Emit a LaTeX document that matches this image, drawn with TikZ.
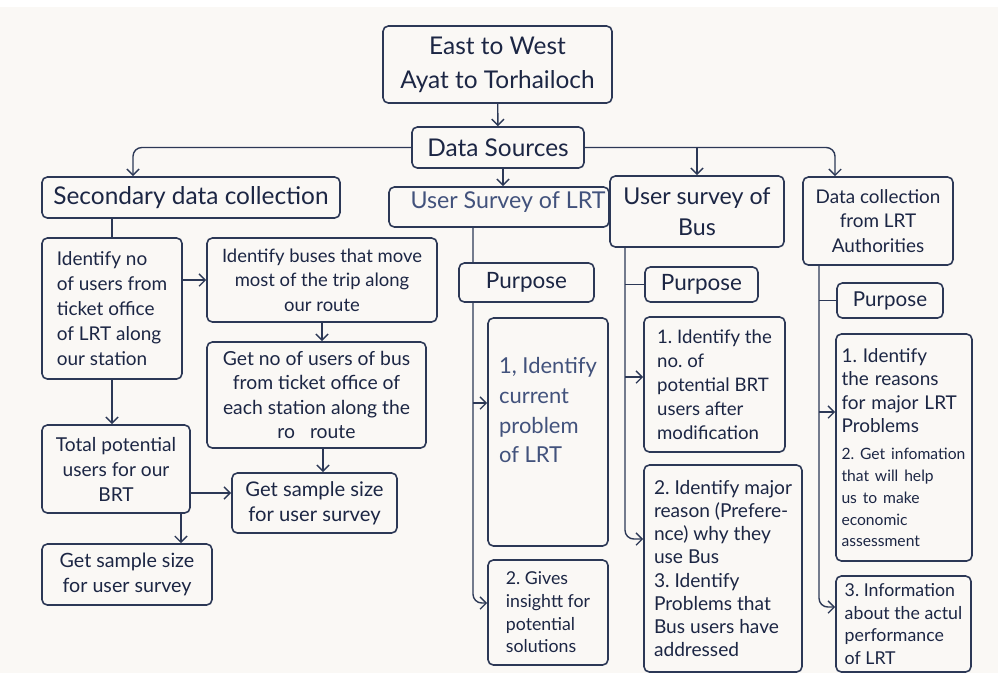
\documentclass[tikz,border=0pt]{standalone}
\usepackage{fontspec}
\setmainfont{Lato}
\usetikzlibrary{arrows.meta}
\definecolor{cream}{RGB}{250,248,245}
\definecolor{ink}{RGB}{28,38,68}
\definecolor{edge}{RGB}{44,56,86}
\definecolor{slate}{RGB}{66,82,124}
\pgfdeclarelayer{paper}
\pgfdeclarelayer{back}
\pgfsetlayers{paper,back,main}
\hyphenpenalty=10000
\exhyphenpenalty=10000

\begin{document}
\begin{tikzpicture}[x=0.02cm, y=-0.02cm,
    box/.style={draw=edge, line width=0.9pt, rounded corners=3pt, fill=cream, text=ink, inner sep=0pt, align=center, execute at begin node=\frenchspacing},
    title/.style={font=\fontsize{13.9}{19.3}\selectfont},
    head/.style={font=\fontsize{13.2}{17.6}\selectfont},
    purp/.style={font=\fontsize{12.8}{15}\selectfont},
    body/.style={font=\fontsize{10.8}{14.2}\selectfont},
    link/.style={draw=edge, line width=0.8pt, rounded corners=5pt},
    >={Straight Barb[length=3.5pt,width=7pt]}]
    \useasboundingbox (0,0) rectangle (998,691);
    \begin{pgfonlayer}{paper}
        \fill[white] (0,0) rectangle (998,691);
        \fill[cream] (0,7) rectangle (998,673);
    \end{pgfonlayer}

    % Top of the tree
    \node[box, title, minimum width=4.58cm, minimum height=1.54cm] (route) at (497.5,64.5) {East to West\\Ayat to Torhailoch};
    \node[box, title, minimum width=3.44cm, minimum height=0.82cm] (sources) at (498,147.5) {Data Sources};
    \node[box, title, minimum width=5.96cm, minimum height=0.82cm] (second) at (191,197.5) {Secondary data collection};
    \node[box, head, minimum width=3.48cm, minimum height=1.42cm] (bus) at (697,211.5) {User survey of\\Bus};
    \node[box, head, text=slate, minimum width=4.4cm, minimum height=0.8cm] (lrt) at (499,207) {\hspace*{0.36cm}User Survey of LRT\rule[-0.28cm]{0pt}{0.28cm}};
    \node[box, font=\fontsize{10.75}{13.9}\selectfont, minimum width=3cm, minimum height=1.76cm] (auth) at (878,221) {Data collection\\from LRT\\Authorities};

    % Secondary data
    \node[box, body, align=left, minimum width=2.8cm, minimum height=2.82cm] (users) at (112,308.5) {Identify no\\of users from\\ticket office\\of LRT along\\our station};
    \node[box, font=\fontsize{10.5}{13.9}\selectfont, minimum width=4.6cm, minimum height=1.68cm] (buses) at (322,280) {Identify buses that move\\most of the trip along\\our route};
    \node[box, font=\fontsize{11}{13.9}\selectfont, minimum width=4.38cm, minimum height=2.12cm] (busers) at (316.5,395) {Get no of users of bus\\from ticket office of\\each station along the\\ro\hspace{0.3cm}route};
    \node[box, font=\fontsize{10.9}{14.2}\selectfont, minimum width=2.96cm, minimum height=1.76cm] (total) at (116,469) {Total potential\\users for our\\BRT};
    \node[box, font=\fontsize{11.5}{14.2}\selectfont, minimum width=3.3cm, minimum height=1.2cm] (sampleb) at (314.5,503) {Get sample size\\for user survey};
    \node[box, font=\fontsize{11.2}{14.2}\selectfont, minimum width=3.4cm, minimum height=1.22cm] (samplel) at (127,574.5) {Get sample size\\for user survey};

    % LRT survey
    \node[box, purp, minimum width=2.7cm, minimum height=0.78cm] (lrtpurp) at (526.5,282.5) {Purpose};
    \node[box, text=slate, font=\fontsize{12.5}{17}\selectfont, align=left, minimum width=2.4cm, minimum height=4.56cm] (lrtone) at (548,432) {1, Identify\\current\\problem\\of LRT\rule[-0.88cm]{0pt}{0.88cm}};
    \node[box, font=\fontsize{10.1}{12.9}\selectfont, align=left, minimum width=2.4cm, minimum height=2.1cm] (lrttwo) at (548,612.5) {2. Gives\\insightt for\\potential\\solutions};

    % Bus survey
    \node[box, purp, minimum width=2.26cm, minimum height=0.7cm] (buspurp) at (701.5,284.5) {Purpose};
    \node[box, font=\fontsize{10.6}{13.6}\selectfont, align=left, minimum width=2.82cm, minimum height=2.7cm] (busone) at (714.5,384.5) {1. Identify the\\no. of\\potential BRT\\users after\\modification};
    \node[box, font=\fontsize{10.9}{13.2}\selectfont, align=left, minimum width=3.16cm, minimum height=4.14cm] (bustwo) at (723,568.5) {2. Identify major\\reason (Prefere-\\nce) why they\\use Bus\\3. Identify\\Problems that\\Bus users have\\addressed};

    % LRT authorities
    \node[box, font=\fontsize{11.7}{14}\selectfont, minimum width=2.12cm, minimum height=0.7cm] (authpurp) at (890,300.5) {Purpose};
    \node[box, text width=2.5cm, align=left, minimum width=2.72cm, minimum height=4.54cm] (authone) at (904,447.5) {\fontsize{10.8}{13.4}\selectfont 1. Identify\\the reasons\\for major LRT\\Problems\par\vspace{3pt}\fontsize{8.9}{12.5}\selectfont 2. Get infomation\\that will help\\us to make\\economic\\assessment};
    \node[box, font=\fontsize{10.1}{13}\selectfont, align=left, minimum width=2.7cm, minimum height=1.92cm] (auththree) at (903.5,624) {3. Information\\about the actul\\performance\\of LRT};

    \coordinate (lrtbus) at ([xshift=-0.52cm]lrt.south);
    \coordinate (busbus) at ([xshift=-1.44cm]bus.south);
    \coordinate (authbus) at ([xshift=-1.18cm]auth.south);

    \begin{pgfonlayer}{back}
        % branches from the sources
        \draw[link,->] (route) -- (sources);
        \draw[link,->] (sources.west) -| ([xshift=-1.16cm]second.north);
        \draw[link,->] (sources.east) -| ([xshift=-0.86cm]auth.north);
        \draw[link,->] (bus.north |- sources.east) -- (bus.north);
        \draw[link,->] ([xshift=0.1cm]sources.south) -- ([xshift=0.1cm]sources.south |- lrt.north);

        % secondary data flow
        \draw[link] (users.north |- second.south) -- (users.north);
        \draw[link,->] (users.east |- buses.west) -- (buses.west);
        \draw[link,->] (buses.south) -- (buses.south |- busers.north);
        \draw[link,->] (users.south) -- (users.south |- total.north);
        \draw[link,->] ([yshift=-0.48cm]total.east) -- ([yshift=-0.48cm]total.east -| sampleb.west);
        \draw[link,->] ([xshift=0.13cm]busers.south) -- ([xshift=0.13cm]busers.south |- sampleb.north);
        \draw[link,->] ([xshift=1.3cm]total.south) -- ([xshift=1.3cm]total.south |- samplel.north);

        % purpose trunks
        \draw[link,->] (lrtbus) |- ([yshift=0.19cm]lrttwo.west);
        \draw[link,->] ([yshift=0.58cm]lrtone.west -| lrtbus) -- ([yshift=0.58cm]lrtone.west);
        \draw[link,->] (busbus) |- ([yshift=0.59cm]bustwo.west);
        \draw[link] (busbus |- buspurp.west) -- (buspurp.west);
        \draw[link,->] ([yshift=0.15cm]busone.west -| busbus) -- ([yshift=0.15cm]busone.west);
        \draw[link,->] (authbus) |- ([yshift=0.34cm]auththree.west);
        \draw[link] (authbus |- authpurp.west) -- (authpurp.west);
        \draw[link,->] ([yshift=0.71cm]authone.west -| authbus) -- ([yshift=0.71cm]authone.west);
    \end{pgfonlayer}
\end{tikzpicture}
\end{document}
